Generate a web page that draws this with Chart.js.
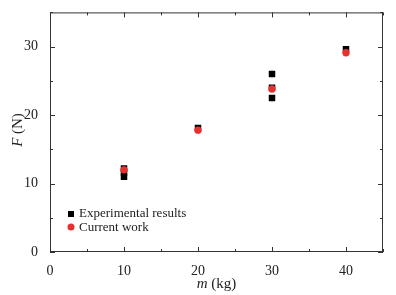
<!DOCTYPE html>
<html>
<head>
<meta charset="utf-8">
<script src="https://cdn.jsdelivr.net/npm/chart.js@4.4.1/dist/chart.umd.min.js"></script>
<style>
  html, body { margin: 0; padding: 0; background: #fff; }
  #wrap { width: 396px; height: 295px; position: relative; }
</style>
</head>
<body>
<div id="wrap"><canvas id="forceChart"></canvas></div>
<script>
// data
const expMass = [10, 10, 10, 20, 30, 30, 30, 40];
const expForce = [12.2, 11.6, 11.0, 18.1, 26.0, 24.0, 22.5, 29.6];
const calcMass = [10, 20, 30, 40];
const calcForce = [12.0, 17.8, 23.8, 29.1];
const xTicks = [0, 10, 20, 30, 40];
const yTicks = [0, 10, 20, 30];
const seriesNames = ['Experimental results', 'Current work'];

const serif = '"Liberation Serif", "Times New Roman", serif';

const toPoints = (xs, ys) => xs.map((x, i) => ({ x: x, y: ys[i] }));

// inward ticks on all four sides, frame, titles and the legend
const frameAndLabels = {
    id: 'frameAndLabels',
    afterDraw(chart) {
        const ctx = chart.ctx;
        const a = chart.chartArea;
        const xs = chart.scales.x;
        const ys = chart.scales.y;
        ctx.save();
        ctx.strokeStyle = '#333';
        ctx.lineWidth = 1;
        ctx.strokeRect(a.left + 0.5, a.top + 0.5, a.right - a.left - 1, a.bottom - a.top - 1);
        ctx.beginPath();
        xs.ticks.forEach(t => {
            const px = Math.round(xs.getPixelForValue(t.value)) + 0.5;
            const len = xTicks.includes(t.value) ? 5 : 3;
            ctx.moveTo(px, a.bottom); ctx.lineTo(px, a.bottom - len);
            ctx.moveTo(px, a.top); ctx.lineTo(px, a.top + len);
        });
        ys.ticks.forEach(t => {
            const py = Math.round(ys.getPixelForValue(t.value)) + 0.5;
            const len = yTicks.includes(t.value) ? 5 : 3;
            ctx.moveTo(a.left, py); ctx.lineTo(a.left + len, py);
            ctx.moveTo(a.right, py); ctx.lineTo(a.right - len, py);
        });
        ctx.stroke();

        // axis titles with italic symbols
        ctx.fillStyle = '#222';
        ctx.textBaseline = 'middle';
        const drawMixed = (parts, cx, cy) => {
            let total = 0;
            parts.forEach(p => { ctx.font = p[1]; total += ctx.measureText(p[0]).width; });
            let x = cx - total / 2;
            ctx.textAlign = 'left';
            parts.forEach(p => { ctx.font = p[1]; ctx.fillText(p[0], x, cy); x += ctx.measureText(p[0]).width; });
        };
        drawMixed([['m', 'italic 15px ' + serif], [' (kg)', '15px ' + serif]], (a.left + a.right) / 2, 284);
        ctx.save();
        ctx.translate(18, 130);
        ctx.rotate(-Math.PI / 2);
        drawMixed([['F', 'italic 15px ' + serif], [' (N)', '15px ' + serif]], 0, 0);
        ctx.restore();

        // legend inside the plot
        ctx.font = '13px ' + serif;
        ctx.fillStyle = '#000';
        ctx.fillRect(68, 211, 6, 6);
        ctx.fillStyle = '#222';
        ctx.fillText(seriesNames[0], 79, 214);
        ctx.fillStyle = '#e8302e';
        ctx.beginPath();
        ctx.arc(71, 227, 3.5, 0, Math.PI * 2);
        ctx.fill();
        ctx.fillStyle = '#222';
        ctx.fillText(seriesNames[1], 79, 228);
        ctx.restore();
    }
};

new Chart(document.getElementById('forceChart').getContext('2d'), {
    type: 'scatter',
    data: {
        datasets: [{
            label: seriesNames[0],
            data: toPoints(expMass, expForce),
            order: 1,
            pointStyle: 'rect',
            pointRadius: 4.6,
            pointHoverRadius: 4.6,
            backgroundColor: '#000000',
            borderColor: '#000000',
            borderWidth: 0
        }, {
            label: seriesNames[1],
            data: toPoints(calcMass, calcForce),
            order: 0,
            pointStyle: 'circle',
            pointRadius: 3.7,
            pointHoverRadius: 3.7,
            backgroundColor: '#e8302e',
            borderColor: '#e8302e',
            borderWidth: 0
        }]
    },
    options: {
        responsive: true,
        maintainAspectRatio: false,
        animation: false,
        layout: { padding: { left: 0, right: 13, top: 7, bottom: 0 } },
        scales: {
            x: {
                type: 'linear',
                min: 0,
                max: 45,
                grid: { display: false },
                border: { display: false },
                afterFit: s => { s.height = 43; },
                ticks: {
                    stepSize: 5,
                    autoSkip: false,
                    maxRotation: 0,
                    padding: 3,
                    color: '#222',
                    font: { family: serif, size: 14 },
                    callback: v => xTicks.includes(v) ? String(v) : ''
                }
            },
            y: {
                type: 'linear',
                min: 0,
                max: 35,
                grid: { display: false },
                border: { display: false },
                afterFit: s => { s.width = 50; },
                ticks: {
                    stepSize: 5,
                    autoSkip: false,
                    padding: 4,
                    color: '#222',
                    font: { family: serif, size: 14 },
                    callback: v => yTicks.includes(v) ? String(v) : ''
                }
            }
        },
        plugins: {
            legend: { display: false },
            tooltip: { enabled: false }
        }
    },
    plugins: [frameAndLabels]
});
</script>
</body>
</html>
